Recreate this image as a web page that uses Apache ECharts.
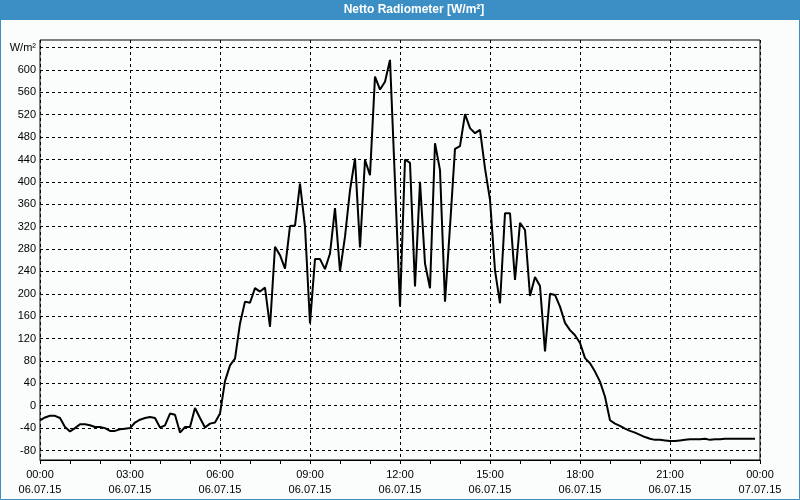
<!DOCTYPE html>
<html><head><meta charset="utf-8">
<script src="https://cdn.jsdelivr.net/npm/echarts@6/dist/echarts.min.js"></script>
<style>html,body{margin:0;padding:0;background:#fff}#c{width:800px;height:500px}</style>
</head><body><div id="c"></div>
<script>
const chartTitle = 'Netto Radiometer [W/m²]';
const unitLabel = 'W/m²';
const startDate = '06.07.15';
const endDate = '07.07.15';
const sampleStepMin = 10;
const yTickMin = -80, yTickMax = 640, yTickStep = 40;
const values = [
 -26,-21,-18,-18,-22,-38,-46,-40,-33,-33,-35,-38,
 -38,-40,-45,-45,-42,-41,-40,-30,-25,-22,-20,-22,
 -39,-35,-14,-16,-48,-38,-38,-4,-22,-39,-32,-30,
 -14,44,72,84,147,186,184,210,204,211,141,284,
 269,245,321,322,397,320,147,262,262,244,272,353,
 240,302,385,442,283,439,412,588,565,579,618,400,
 177,440,434,213,400,254,210,469,421,186,320,459,
 464,521,496,487,493,424,368,242,183,344,344,225,
 327,314,196,230,214,97,200,198,177,148,135,126,
 112,85,76,61,43,16,-26,-32,-36,-41,-45,-48,
 -52,-56,-59,-61,-61,-62,-63,-63,-62,-61,-60,-60,
 -60,-59,-61,-60,-60,-59,-59,-59,-59,-59,-59,-59
];
const times = values.map((_, i) => i * sampleStepMin);
const seriesData = times.map((t, i) => [t, values[i]]);

const FONT = "'Liberation Sans', Arial, sans-serif";
const pad = n => (n < 10 ? '0' : '') + n;
function fmtX(v) {
  const h = Math.floor(v / 60) % 24, m = v % 60;
  return pad(h) + ':' + pad(m) + '\n' + (v >= 1440 ? endDate : startDate);
}
const chart = echarts.init(document.getElementById('c'), null, {renderer: 'canvas'});
chart.setOption({
  backgroundColor: '#fbfdfc',
  animation: false,
  graphic: [
    {type: 'rect', shape: {x: 0, y: 0, width: 800, height: 20}, style: {fill: '#3b8fc4'}, z: 10},
    {type: 'rect', shape: {x: 0.5, y: 0.5, width: 799, height: 499}, style: {fill: null, stroke: '#3b8fc4', lineWidth: 1}, z: 10},
    {type: 'text', x: 414, y: 10, z: 11, style: {text: chartTitle, fill: '#fff', font: "bold 12px 'Liberation Sans', Arial, sans-serif", textAlign: 'center', textVerticalAlign: 'middle'}}
  ],
  grid: [
    {left: 40, right: 40, top: 40, bottom: 40, show: true, borderColor: '#000', borderWidth: 1, backgroundColor: 'transparent'},
    {left: 40, right: 40, top: 47.6, bottom: 49.5}
  ],
  xAxis: [
    {type: 'value', gridIndex: 0, min: 0, max: 1440, interval: 180,
     axisLine: {show: true, onZero: false, lineStyle: {color: '#000', width: 1}},
     axisTick: {show: true, length: 4, lineStyle: {color: '#000'}},
     minorTick: {show: true, splitNumber: 3, length: 4, lineStyle: {color: '#000'}},
     splitLine: {show: true, lineStyle: {color: '#000', width: 1, type: [3, 3]}},
     axisLabel: {formatter: fmtX, color: '#000', fontFamily: FONT, fontSize: 11, lineHeight: 15, margin: 7}},
    {type: 'value', gridIndex: 1, min: 0, max: 1440, show: false}
  ],
  yAxis: [
    {type: 'value', gridIndex: 0, min: -97, max: 653.5, show: false},
    {type: 'value', gridIndex: 1, min: yTickMin, max: yTickMax, interval: yTickStep,
     axisLine: {show: false}, axisTick: {show: false},
     splitLine: {show: true, lineStyle: {color: '#000', width: 1, type: [3, 3]}},
     axisLabel: {color: '#000', fontFamily: FONT, fontSize: 11, margin: 4,
       formatter: v => (v === yTickMax ? unitLabel : String(v))}}
  ],
  series: [{
    type: 'line', xAxisIndex: 0, yAxisIndex: 0, data: seriesData,
    showSymbol: false, symbol: 'none', smooth: false,
    lineStyle: {color: '#000', width: 2}, z: 5
  }]
});
</script>
</body></html>
